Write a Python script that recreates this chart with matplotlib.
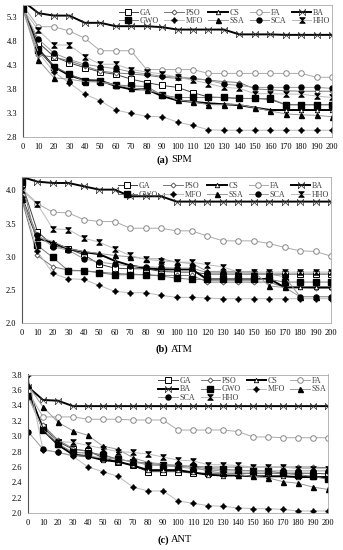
import numpy as np
import matplotlib
matplotlib.use("Agg")
from matplotlib import pyplot as plt

plt.rcParams["font.family"] = ["Liberation Serif", "DejaVu Serif"]

iters = list(range(0, 201, 10))
names = ["GA", "PSO", "CS", "FA", "BA", "GWO", "MFO", "SSA", "SCA", "HHO"]

# (a) SPM
spm_GA = [5.45, 4.76, 4.47, 4.34, 4.24, 4.15, 4.10, 4.00, 3.93, 3.87, 3.83, 3.72, 3.63, 3.62, 3.60, 3.60, 3.58, 3.47, 3.47, 3.47, 3.47]
spm_PSO = [5.45, 4.50, 4.46, 4.38, 4.27, 4.17, 4.13, 4.11, 4.08, 4.04, 4.02, 4.01, 3.98, 3.95, 3.93, 3.80, 3.78, 3.76, 3.75, 3.75, 3.75]
spm_CS = [5.50, 4.62, 4.26, 4.08, 3.98, 3.97, 3.86, 3.79, 3.79, 3.65, 3.56, 3.53, 3.50, 3.48, 3.46, 3.41, 3.36, 3.36, 3.36, 3.36, 3.36]
spm_FA = [5.52, 5.09, 5.09, 5.00, 4.85, 4.59, 4.59, 4.59, 4.20, 4.20, 4.20, 4.20, 4.12, 4.12, 4.12, 4.12, 4.12, 4.12, 4.12, 4.04, 4.04]
spm_BA = [5.62, 5.37, 5.32, 5.32, 5.17, 5.17, 5.10, 5.10, 5.10, 5.08, 5.03, 5.03, 5.03, 5.03, 4.93, 4.93, 4.93, 4.92, 4.92, 4.92, 4.92]
spm_GWO = [5.45, 4.61, 4.26, 4.11, 3.96, 3.96, 3.88, 3.86, 3.85, 3.67, 3.62, 3.62, 3.62, 3.62, 3.60, 3.60, 3.60, 3.47, 3.47, 3.47, 3.47]
spm_MFO = [5.45, 4.55, 4.15, 3.92, 3.69, 3.55, 3.36, 3.29, 3.23, 3.22, 3.11, 3.04, 2.95, 2.94, 2.94, 2.94, 2.94, 2.94, 2.94, 2.94, 2.94]
spm_SSA = [5.45, 4.40, 4.03, 4.00, 3.95, 3.94, 3.88, 3.82, 3.77, 3.70, 3.57, 3.53, 3.47, 3.47, 3.47, 3.41, 3.34, 3.28, 3.26, 3.25, 3.22]
spm_SCA = [5.45, 4.83, 4.54, 4.41, 4.31, 4.26, 4.22, 4.15, 4.11, 4.06, 4.05, 4.02, 3.98, 3.90, 3.87, 3.83, 3.83, 3.83, 3.83, 3.83, 3.81]
spm_HHO = [5.45, 5.02, 4.71, 4.71, 4.47, 4.31, 4.31, 4.20, 4.15, 4.11, 4.04, 3.98, 3.91, 3.83, 3.81, 3.70, 3.70, 3.69, 3.69, 3.65, 3.62]

# (b) ATM
atm_GA = [4.10, 3.38, 3.17, 3.12, 3.03, 2.89, 2.83, 2.82, 2.82, 2.78, 2.77, 2.77, 2.74, 2.74, 2.74, 2.74, 2.74, 2.74, 2.74, 2.74, 2.74]
atm_PSO = [3.85, 3.02, 2.85, 2.80, 2.79, 2.77, 2.75, 2.74, 2.73, 2.72, 2.72, 2.72, 2.62, 2.62, 2.62, 2.62, 2.62, 2.54, 2.54, 2.53, 2.53]
atm_CS = [3.88, 3.28, 3.21, 3.12, 3.07, 3.04, 2.94, 2.87, 2.83, 2.81, 2.81, 2.81, 2.66, 2.66, 2.66, 2.66, 2.67, 2.54, 2.54, 2.54, 2.54]
atm_FA = [4.02, 3.80, 3.67, 3.66, 3.56, 3.53, 3.53, 3.43, 3.43, 3.43, 3.39, 3.39, 3.31, 3.24, 3.24, 3.24, 3.20, 3.14, 3.09, 3.08, 3.01]
atm_BA = [4.20, 4.13, 4.11, 4.11, 4.06, 4.01, 4.01, 3.91, 3.91, 3.91, 3.83, 3.83, 3.83, 3.83, 3.83, 3.83, 3.83, 3.83, 3.83, 3.83, 3.83]
atm_GWO = [4.12, 3.17, 2.99, 2.79, 2.79, 2.76, 2.73, 2.73, 2.73, 2.71, 2.68, 2.66, 2.66, 2.66, 2.66, 2.66, 2.66, 2.62, 2.62, 2.62, 2.62]
atm_MFO = [3.90, 3.08, 2.75, 2.67, 2.66, 2.57, 2.48, 2.46, 2.46, 2.42, 2.39, 2.39, 2.38, 2.37, 2.37, 2.37, 2.37, 2.37, 2.37, 2.37, 2.37]
atm_SSA = [3.87, 3.30, 3.23, 3.12, 3.08, 3.05, 3.02, 3.00, 2.97, 2.97, 2.92, 2.90, 2.78, 2.78, 2.78, 2.78, 2.56, 2.54, 2.40, 2.40, 2.40]
atm_SCA = [3.85, 3.33, 3.15, 3.10, 2.97, 2.92, 2.89, 2.86, 2.85, 2.84, 2.83, 2.83, 2.76, 2.76, 2.76, 2.76, 2.74, 2.70, 2.40, 2.40, 2.40]
atm_HHO = [4.00, 3.79, 3.42, 3.41, 3.28, 3.22, 3.12, 3.02, 2.96, 2.94, 2.92, 2.92, 2.88, 2.85, 2.77, 2.77, 2.77, 2.77, 2.77, 2.77, 2.77]

# (c) ANT
ant_GA = [3.53, 3.12, 2.93, 2.83, 2.81, 2.72, 2.67, 2.62, 2.54, 2.54, 2.54, 2.52, 2.52, 2.52, 2.52, 2.52, 2.52, 2.52, 2.52, 2.52, 2.51]
ant_PSO = [3.56, 3.14, 2.95, 2.84, 2.80, 2.75, 2.70, 2.67, 2.65, 2.63, 2.62, 2.61, 2.60, 2.60, 2.60, 2.60, 2.60, 2.60, 2.60, 2.60, 2.59]
ant_CS = [3.62, 3.08, 2.89, 2.76, 2.74, 2.69, 2.67, 2.62, 2.56, 2.56, 2.56, 2.53, 2.50, 2.49, 2.49, 2.48, 2.48, 2.48, 2.47, 2.47, 2.47]
ant_FA = [3.58, 3.25, 3.25, 3.25, 3.22, 3.22, 3.22, 3.21, 3.21, 3.21, 3.08, 3.08, 3.08, 3.08, 3.06, 2.99, 2.99, 2.98, 2.98, 2.98, 2.98]
ant_BA = [3.64, 3.47, 3.46, 3.39, 3.39, 3.39, 3.39, 3.39, 3.39, 3.39, 3.39, 3.39, 3.39, 3.39, 3.39, 3.39, 3.39, 3.39, 3.39, 3.39, 3.39]
ant_GWO = [3.52, 3.08, 2.90, 2.79, 2.78, 2.76, 2.70, 2.67, 2.63, 2.62, 2.61, 2.60, 2.58, 2.57, 2.56, 2.55, 2.55, 2.52, 2.50, 2.48, 2.44]
ant_MFO = [3.79, 2.82, 2.79, 2.74, 2.60, 2.54, 2.48, 2.34, 2.29, 2.29, 2.16, 2.13, 2.10, 2.09, 2.07, 2.06, 2.06, 2.05, 2.03, 2.03, 2.03]
ant_SSA = [3.66, 3.38, 3.18, 3.07, 3.01, 2.87, 2.83, 2.72, 2.66, 2.64, 2.62, 2.60, 2.55, 2.52, 2.50, 2.48, 2.46, 2.41, 2.39, 2.34, 2.31]
ant_SCA = [3.06, 2.83, 2.79, 2.75, 2.74, 2.72, 2.70, 2.67, 2.63, 2.62, 2.60, 2.58, 2.56, 2.55, 2.55, 2.55, 2.55, 2.55, 2.55, 2.55, 2.55]
ant_HHO = [3.52, 3.08, 2.93, 2.92, 2.88, 2.84, 2.80, 2.79, 2.77, 2.73, 2.69, 2.68, 2.63, 2.63, 2.62, 2.60, 2.60, 2.60, 2.58, 2.58, 2.58]

hourglass = [(-1, 1), (1, 1), (-1, -1), (1, -1), (-1, 1)]
bowtie = [(-1, -1), (-1, 1), (1, -1), (1, 1), (-1, -1)]

styles = {
    "GA": dict(color="#444444", lw=0.7, marker="s", ms=4, mfc="white", mec="black", mew=0.7),
    "PSO": dict(color="#777777", lw=0.7, marker="D", ms=2.6, mfc="white", mec="#444444", mew=0.6),
    "CS": dict(color="black", lw=1.4, marker="^", ms=3.2, mfc="white", mec="black", mew=0.6),
    "FA": dict(color="#aaaaaa", lw=0.7, marker="o", ms=4, mfc="white", mec="#888888", mew=0.7),
    "BA": dict(color="black", lw=1.4, marker=bowtie, ms=4.5, mfc="none", mec="#333333", mew=0.5),
    "GWO": dict(color="#777777", lw=0.7, marker="s", ms=3.8, mfc="black", mec="black"),
    "MFO": dict(color="#bbbbbb", lw=0.7, marker=(4, 1, 0), ms=4, mfc="black", mec="black"),
    "SSA": dict(color="#999999", lw=0.7, marker="^", ms=3.6, mfc="black", mec="black"),
    "SCA": dict(color="#999999", lw=0.7, marker="o", ms=3.6, mfc="black", mec="black"),
    "HHO": dict(color="#bbbbbb", lw=0.7, marker=hourglass, ms=4, mfc="black", mec="black", mew=0.6),
}

W, H = 343, 550
fig = plt.figure(figsize=(W / 100, H / 100), dpi=100)


def add_panel(rect, data, ylim, yticks, legend_order, ncol, legend_box, caption):
    l, t, r, b = rect
    ax = fig.add_axes([l / W, 1 - b / H, (r - l) / W, (b - t) / H])
    lines = {}
    for name, vals in zip(names, data):
        lines[name], = ax.plot(iters, vals, label=name, **styles[name])
    ax.set_xlim(0, 200)
    ax.set_ylim(*ylim)
    ax.set_xticks(iters)
    ax.set_yticks(yticks)
    ax.set_yticklabels(["%.1f" % v for v in yticks])
    ax.tick_params(labelsize=6, length=0, pad=4)
    for side in ["top", "right", "bottom"]:
        ax.spines[side].set_color("#aaaaaa")
        ax.spines[side].set_linewidth(0.6)
    ax.spines["left"].set_color("#555555")
    ax.spines["left"].set_linewidth(0.8)
    hs = [lines[n] for n in legend_order]
    ax.legend(hs, legend_order, ncol=ncol, frameon=False, fontsize=5.8,
              loc="upper right", bbox_to_anchor=legend_box,
              handlelength=2.4, handletextpad=0.2, columnspacing=0.7,
              labelspacing=0.1, borderpad=0.1, labelcolor="#444444")
    fig.text(caption[1] / W - 0.004, 1 - caption[2] / H, caption[0], ha="right",
             va="center", fontsize=7.5, fontweight="bold")
    fig.text(caption[1] / W + 0.004, 1 - caption[2] / H, caption[3], ha="left",
             va="center", fontsize=7.5)
    return ax


add_panel((23, 5, 332, 137),
          [spm_GA, spm_PSO, spm_CS, spm_FA, spm_BA, spm_GWO, spm_MFO, spm_SSA, spm_SCA, spm_HHO],
          (2.8, 5.54), np.arange(2.8, 5.31, 0.5),
          ["GA", "GWO", "PSO", "MFO", "CS", "SSA", "FA", "SCA", "BA", "HHO"], 5,
          (1.01, 1.01), ("(a)", 170, 160, "SPM"))

add_panel((22, 177, 331, 323.3),
          [atm_GA, atm_PSO, atm_CS, atm_FA, atm_BA, atm_GWO, atm_MFO, atm_SSA, atm_SCA, atm_HHO],
          (2.0, 4.2), np.arange(2.0, 4.01, 0.5),
          ["GA", "GWO", "PSO", "MFO", "CS", "SSA", "FA", "SCA", "BA", "HHO"], 5,
          (1.01, 1.0), ("(b)", 170, 349, "ATM"))

add_panel((28, 374.5, 328, 513.3),
          [ant_GA, ant_PSO, ant_CS, ant_FA, ant_BA, ant_GWO, ant_MFO, ant_SSA, ant_SCA, ant_HHO],
          (2.0, 3.8), np.arange(2.0, 3.81, 0.2),
          ["GA", "BA", "SCA", "PSO", "GWO", "HHO", "CS", "MFO", "FA", "SSA"], 4,
          (1.01, 1.02), ("(c)", 170, 540, "ANT"))

plt.savefig("out.png", dpi=100)
